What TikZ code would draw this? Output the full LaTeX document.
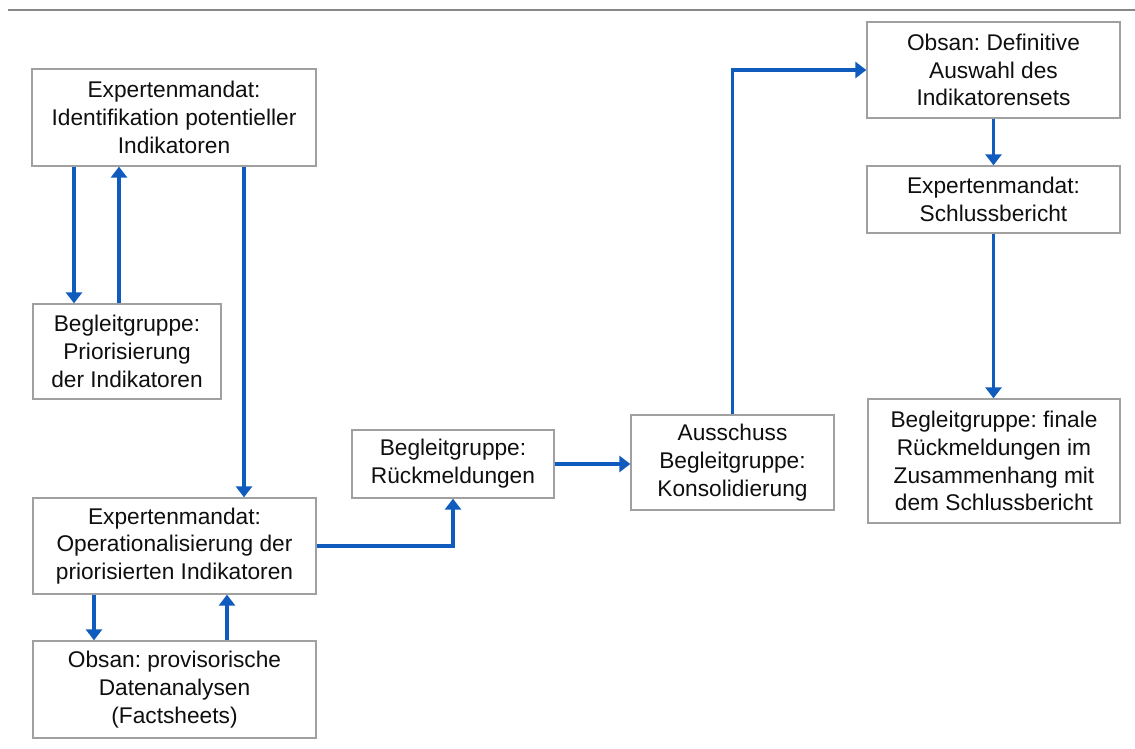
\documentclass[tikz,border=0pt]{standalone}
\usepackage{fontspec}
\setmainfont{Liberation Sans}
\usetikzlibrary{arrows.meta}
\definecolor{boxgray}{RGB}{160,160,160}
\definecolor{rulegray}{RGB}{135,135,135}
\definecolor{arrblue}{RGB}{16,92,190}
\definecolor{txt}{RGB}{15,15,15}
\begin{document}
\frenchspacing
\begin{tikzpicture}[x=1pt,y=-1pt,
  stepbox/.style={draw=boxgray,line width=1.3pt,fill=white,inner sep=0pt,align=center,
    text=txt,font=\fontsize{22.7}{27.8}\selectfont},
  arr/.style={draw=arrblue,line width=3.2pt,-{Triangle[width=16pt,length=11pt]}}]
\useasboundingbox (0,0) rectangle (1135,749);
\draw[rulegray,line width=2pt] (8,10) -- (1135,10);
\node[stepbox,minimum width=284pt,minimum height=97pt] (A) at (174,117.5) {Expertenmandat:\\Identifikation potentieller\\Indikatoren};
\node[stepbox,minimum width=188pt,minimum height=95pt] (B) at (127,351.5) {Begleitgruppe:\\Priorisierung\\der Indikatoren};
\node[stepbox,minimum width=283pt,minimum height=96pt] (C) at (174.5,546) {Expertenmandat:\\Operationalisierung der\\priorisierten Indikatoren};
\node[stepbox,minimum width=283pt,minimum height=97pt] (D) at (174.5,689.5) {Obsan: provisorische\\Datenanalysen\\(Factsheets)};
\node[stepbox,minimum width=202pt,minimum height=68pt] (E) at (453,464) {Begleitgruppe:\\Rückmeldungen};
\node[stepbox,minimum width=203pt,minimum height=95pt] (F) at (732.5,462.5) {Ausschuss\\Begleitgruppe:\\Konsolidierung};
\node[stepbox,minimum width=253pt,minimum height=96pt] (G) at (993.5,70) {Obsan: Definitive\\Auswahl des\\Indikatorensets};
\node[stepbox,minimum width=253pt,minimum height=67pt] (H) at (993.5,199.5) {Expertenmandat:\\Schlussbericht};
\node[stepbox,minimum width=252pt,minimum height=124pt] (I) at (994,461) {Begleitgruppe: finale\\Rückmeldungen im\\Zusammenhang mit\\dem Schlussbericht};
\draw[arr] (A.south -| 74,0) -- (B.north -| 74,0);
\draw[arr] (B.north -| 119,0) -- (A.south -| 119,0);
\draw[arr] (A.south -| 244,0) -- (C.north -| 244,0);
\draw[arr] (C.south -| 94,0) -- (D.north -| 94,0);
\draw[arr] (D.north -| 227,0) -- (C.south -| 227,0);
\draw[arr] (C.east) -| (E.south);
\draw[arr] (E.east) -- (F.west |- E.east);
\draw[arr] (F.north) |- (G.west);
\draw[arr] (G.south) -- (H.north);
\draw[arr] (H.south) -- (H.south |- I.north);
\end{tikzpicture}
\end{document}
